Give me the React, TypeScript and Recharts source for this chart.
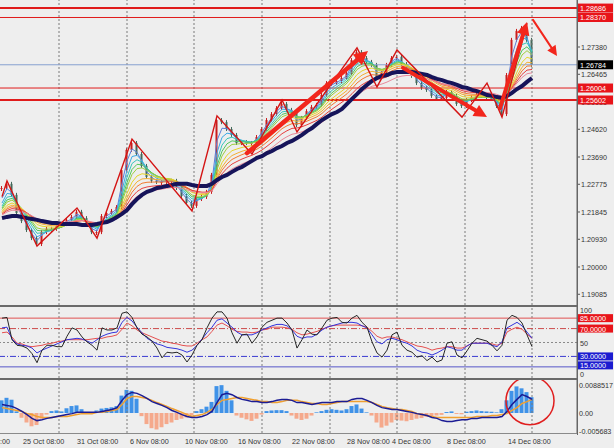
import React from 'react';
import { ComposedChart, Line, Bar, XAxis, YAxis, ReferenceLine, ReferenceDot } from 'recharts';

const FONT = '"Liberation Sans", Arial, sans-serif';
const W = 614;
const AXIS_W = 37;
const X_DOMAIN: [number, number] = [-0.4, 115];

// ---- price pane data (one sample per bar slot) ----
const closes = [
  1.2265, 1.2279, 1.2242, 1.2181, 1.2154, 1.2124, 1.2097, 1.2077, 1.2117, 1.2128,
  1.2128, 1.2138, 1.2144, 1.2158, 1.2168, 1.2185, 1.2164, 1.2141, 1.2117, 1.2117,
  1.2171, 1.2181, 1.2188, 1.2201, 1.2325, 1.2393, 1.2416, 1.2379, 1.2339, 1.2302,
  1.2289, 1.2285, 1.2285, 1.2289, 1.2289, 1.2265, 1.2238, 1.2215, 1.2205, 1.2228,
  1.2235, 1.2252, 1.2309, 1.2493, 1.2486, 1.2463, 1.2443, 1.2416, 1.2419, 1.2416,
  1.2416, 1.2436, 1.2463, 1.2493, 1.2513, 1.2533, 1.2547, 1.2527, 1.2520, 1.2476,
  1.2500, 1.2523, 1.2537, 1.2544, 1.2577, 1.2617, 1.2617, 1.2624, 1.2634, 1.2651,
  1.2694, 1.2721, 1.2701, 1.2688, 1.2678, 1.2637, 1.2654, 1.2678, 1.2701, 1.2705,
  1.2681, 1.2661, 1.2641, 1.2617, 1.2601, 1.2594, 1.2574, 1.2564, 1.2567, 1.2587,
  1.2574, 1.2547, 1.2540, 1.2560, 1.2570, 1.2577, 1.2574, 1.2570, 1.2564, 1.2540,
  1.2513, 1.2644, 1.2762, 1.2792, 1.2802, 1.2762, 1.2678,
];

const navyMA = [
  1.2164, 1.2168, 1.2171, 1.2171, 1.2168, 1.2164, 1.2161, 1.2158, 1.2154, 1.2151,
  1.2148, 1.2148, 1.2144, 1.2144, 1.2144, 1.2144, 1.2141, 1.2141, 1.2141, 1.2144,
  1.2148, 1.2151, 1.2158, 1.2168, 1.2178, 1.2191, 1.2211, 1.2228, 1.2242, 1.2252,
  1.2258, 1.2265, 1.2268, 1.2272, 1.2275, 1.2279, 1.2279, 1.2279, 1.2275, 1.2272,
  1.2272, 1.2272, 1.2279, 1.2292, 1.2302, 1.2309, 1.2319, 1.2329, 1.2336, 1.2346,
  1.2356, 1.2366, 1.2372, 1.2382, 1.2389, 1.2399, 1.2406, 1.2416, 1.2423, 1.2433,
  1.2443, 1.2456, 1.2466, 1.2480, 1.2493, 1.2503, 1.2513, 1.2520, 1.2530, 1.2547,
  1.2564, 1.2580, 1.2597, 1.2611, 1.2624, 1.2634, 1.2641, 1.2644, 1.2651, 1.2654,
  1.2654, 1.2654, 1.2654, 1.2651, 1.2648, 1.2644, 1.2637, 1.2631, 1.2627, 1.2621,
  1.2617, 1.2611, 1.2604, 1.2601, 1.2594, 1.2590, 1.2584, 1.2577, 1.2574, 1.2570,
  1.2567, 1.2574, 1.2584, 1.2597, 1.2607, 1.2621, 1.2634,
];

const zigIdx = [0, 1, 7, 15, 19, 26, 38, 43, 50, 56, 59, 71, 75, 79, 92, 97, 100, 105];
const zigPrice = [1.2236, 1.2289, 1.2070, 1.2198, 1.2097, 1.2429, 1.2188, 1.2507, 1.2379, 1.2560,
  1.2453, 1.2735, 1.2604, 1.2728, 1.2503, 1.2617, 1.2503, 1.2818];

const arrowFromIdx = [49, 80.2, 99.6, 106.2];
const arrowFromPrice = [1.2382, 1.2668, 1.2533, 1.2829];
const arrowToIdx = [73.2, 97, 105, 111];
const arrowToPrice = [1.2725, 1.2503, 1.2822, 1.2708];

const ribbonPeriods = [2, 3, 4, 5, 6, 8, 10, 12, 15, 19];
const ribbonColors = ['#5b80d8', '#3aa9e6', '#38c6bc', '#50c85e', '#9ccf3e', '#e6d42a', '#f4b032', '#f27a30', '#e63f3f', '#e8889a'];

const priceTicks = [1.19085, 1.2, 1.2093, 1.21845, 1.22775, 1.2369, 1.2462, 1.25535, 1.26465, 1.2738];
const priceLevels = [1.28686, 1.2837, 1.26784, 1.26004, 1.25602];
const levelLineColors = ['#e01b1b', '#e01b1b', '#86a0cf', '#e01b1b', '#e01b1b'];
const levelLineWidths = [2, 1, 1, 1, 2];
const levelBoxColors = ['#e8141a', '#e8141a', '#000000', '#e8141a', '#e8141a'];

// ---- RSI pane ----
const rsiFast = [
  85, 86, 54, 46, 45, 42, 34, 21, 39, 46,
  46, 44, 44, 59, 71, 68, 58, 51, 46, 39,
  71, 68, 68, 71, 92, 94, 86, 71, 62, 58,
  52, 42, 28, 36, 35, 36, 32, 22, 32, 46,
  54, 71, 85, 94, 94, 85, 64, 49, 61, 62,
  49, 58, 72, 79, 82, 85, 85, 78, 68, 42,
  54, 68, 62, 61, 71, 82, 85, 86, 79, 78,
  85, 89, 79, 72, 51, 35, 29, 39, 61, 65,
  46, 39, 36, 29, 31, 24, 29, 22, 25, 49,
  51, 32, 28, 38, 49, 56, 54, 52, 46, 38,
  46, 82, 89, 86, 78, 61, 44,
];
const rsiMid = [
  71, 72, 55, 48, 46, 45, 42, 35, 39, 42,
  45, 48, 51, 54, 55, 56, 55, 52, 49, 54,
  59, 62, 64, 65, 79, 86, 81, 72, 64, 56,
  52, 48, 46, 43, 42, 41, 39, 36, 39, 46,
  55, 64, 72, 82, 84, 78, 72, 65, 61, 61,
  61, 64, 68, 71, 74, 76, 76, 74, 68, 59,
  56, 58, 58, 62, 68, 72, 74, 76, 78, 79,
  79, 78, 74, 71, 61, 51, 48, 54, 56, 54,
  51, 49, 45, 39, 36, 35, 32, 35, 39, 44,
  42, 39, 39, 45, 49, 49, 49, 49, 46, 44,
  51, 71, 75, 79, 74, 65, 56,
];
const rsiSlow = [
  64, 65, 58, 49, 48, 45, 44, 45, 46, 48,
  49, 51, 52, 54, 54, 54, 54, 54, 55, 56,
  56, 58, 59, 61, 69, 78, 74, 68, 64, 61,
  58, 55, 52, 51, 49, 48, 46, 45, 45, 49,
  54, 58, 66, 75, 78, 74, 69, 66, 65, 65,
  64, 65, 68, 69, 72, 72, 72, 71, 69, 64,
  61, 62, 64, 66, 69, 72, 74, 75, 75, 75,
  75, 75, 74, 72, 66, 59, 56, 58, 58, 56,
  54, 51, 48, 45, 44, 42, 39, 41, 42, 44,
  44, 42, 42, 45, 49, 49, 49, 49, 48, 46,
  49, 65, 69, 72, 69, 62, 56,
];
const rsiTicks = [100, 85, 70, 50, 30, 15, 0];
const rsiTickLabels = ['100', '85.0000', '70.0000', '50', '30.0000', '15.0000', '0'];
const rsiTickBox = ['', '#e8141a', '#e8141a', '', '#1c1cd0', '#1c1cd0', ''];
const rsiTickNudge = [2.5, 0, 0, 0, 0, -1.5, -3];

// ---- MACD pane ----
const macdHist = [
  0.0040, 0.0048, 0.0042, 0.0005, -0.0015, -0.0030, -0.0042, -0.0038, -0.0018, -0.0005,
  0.0006, 0.0008, 0.0005, 0.0015, 0.0022, 0.0024, 0.0012, 0.0002, -0.0003, 0.0008,
  0.0014, 0.0016, 0.0018, 0.0022, 0.0055, 0.0073, 0.0070, 0.0045, -0.0010, -0.0035,
  -0.0048, -0.0052, -0.0045, -0.0035, -0.0030, -0.0022, -0.0018, -0.0014, -0.0008, 0.0006,
  0.0012, 0.0020, 0.0035, 0.0085, 0.0088, 0.0070, 0.0040, -0.0008, -0.0015, -0.0020,
  -0.0025, -0.0018, -0.0005, 0.0006, 0.0008, 0.0009, 0.0009, 0.0006, -0.0008, -0.0018,
  -0.0022, -0.0018, -0.0008, 0.0002, 0.0006, 0.0010, 0.0012, 0.0010, 0.0008, 0.0012,
  0.0022, 0.0027, 0.0014, 0.0002, -0.0008, -0.0030, -0.0046, -0.0040, -0.0030, -0.0022,
  -0.0024, -0.0026, -0.0022, -0.0018, -0.0016, -0.0012, -0.0010, -0.0008, -0.0006, 0.0003,
  0.0005, -0.0003, -0.0004, 0.0004, 0.0006, 0.0008, 0.0006, 0.0005, 0.0004, 0.0002,
  0.0012, 0.0040, 0.0070, 0.0084, 0.0078, 0.0066, 0.0050,
];
const macdMain = [
  0.0027, 0.0024, 0.0021, 0.0014, 0.0005, -0.0005, -0.0017, -0.0024, -0.0021, -0.0017,
  -0.0014, -0.0011, -0.0008, -0.0005, -0.0002, 0.0002, 0.0002, 0.0002, 0.0002, 0.0002,
  0.0005, 0.0008, 0.0011, 0.0017, 0.0040, 0.0058, 0.0065, 0.0062, 0.0055, 0.0046,
  0.0036, 0.0030, 0.0024, 0.0017, 0.0008, 0.0002, -0.0005, -0.0011, -0.0014, -0.0014,
  -0.0011, -0.0005, 0.0005, 0.0033, 0.0058, 0.0062, 0.0058, 0.0049, 0.0043, 0.0040,
  0.0036, 0.0036, 0.0033, 0.0033, 0.0036, 0.0040, 0.0043, 0.0043, 0.0040, 0.0033,
  0.0033, 0.0030, 0.0027, 0.0030, 0.0033, 0.0033, 0.0033, 0.0036, 0.0036, 0.0036,
  0.0043, 0.0046, 0.0046, 0.0040, 0.0033, 0.0024, 0.0017, 0.0014, 0.0011, 0.0011,
  0.0008, 0.0005, 0.0002, -0.0002, -0.0005, -0.0008, -0.0014, -0.0017, -0.0024, -0.0027,
  -0.0027, -0.0024, -0.0021, -0.0021, -0.0017, -0.0017, -0.0014, -0.0014, -0.0014, -0.0014,
  -0.0011, 0.0005, 0.0027, 0.0043, 0.0058, 0.0052, 0.0043,
];
const macdSignal = [
  0.0017, 0.0014, 0.0011, 0.0008, 0.0005, -0.0002, -0.0005, -0.0011, -0.0014, -0.0014,
  -0.0014, -0.0011, -0.0011, -0.0011, -0.0008, -0.0005, -0.0002, -0.0002, -0.0002, 0.0002,
  0.0002, 0.0005, 0.0008, 0.0011, 0.0027, 0.0046, 0.0052, 0.0052, 0.0049, 0.0046,
  0.0040, 0.0033, 0.0027, 0.0021, 0.0014, 0.0008, 0.0002, -0.0005, -0.0011, -0.0008,
  -0.0005, 0.0002, 0.0011, 0.0027, 0.0040, 0.0043, 0.0046, 0.0049, 0.0049, 0.0046,
  0.0043, 0.0040, 0.0036, 0.0036, 0.0033, 0.0033, 0.0036, 0.0040, 0.0040, 0.0040,
  0.0036, 0.0033, 0.0030, 0.0030, 0.0027, 0.0027, 0.0030, 0.0033, 0.0036, 0.0036,
  0.0036, 0.0036, 0.0036, 0.0036, 0.0033, 0.0027, 0.0021, 0.0017, 0.0014, 0.0011,
  0.0011, 0.0008, 0.0005, -0.0002, -0.0005, -0.0008, -0.0011, -0.0014, -0.0014, -0.0014,
  -0.0014, -0.0014, -0.0014, -0.0014, -0.0014, -0.0011, -0.0011, -0.0011, -0.0008, -0.0008,
  -0.0005, -0.0002, 0.0008, 0.0017, 0.0030, 0.0036, 0.0043,
];
const macdTicks = [0.0088517, 0, -0.005683];
const macdTickLabels = ['0.0088517', '0.00', '-0.005683'];
const circleIdx = 105.6;
const circleValue = 0.0039;

// ---- time axis ----
const gridIdx = [11.4, 25, 38.4, 52, 65.6, 79, 92.6, 106];
const dateTickIdx = [-0.4, 4.2, 15, 25.6, 36.6, 47.2, 58, 69, 78, 89, 101.2];
const dateLabels = ['19 Oct 08:00', '25 Oct 08:00', '31 Oct 08:00', '6 Nov 08:00', '10 Nov 08:00', '16 Nov 08:00',
  '22 Nov 08:00', '28 Nov 08:00', '4 Dec 08:00', '8 Dec 08:00', '14 Dec 08:00'];

// ---- build table ----
const ribbon = ribbonPeriods.map((n) => {
  const a = 2 / (n + 1);
  let e = navyMA[0];
  return closes.map((c) => (e = e + a * (c - e)));
});

const rows: any[] = closes.map((c, i) => {
  const o = i > 0 ? closes[i - 1] : c;
  const row: any = {
    i,
    body: [Math.min(o, c), Math.max(o, c)],
    up: c >= o,
    navy: navyMA[i],
    zz: null,
    rsiF: rsiFast[i],
    rsiM: rsiMid[i],
    rsiS: rsiSlow[i],
    hist: macdHist[i],
    macd: macdMain[i],
    sig: macdSignal[i],
  };
  ribbon.forEach((arr, k) => { row['r' + k] = arr[i]; });
  return row;
});
zigIdx.forEach((idx, k) => { rows[idx].zz = zigPrice[k]; });

const arrowWidths = [4.5, 4, 4, 2];
const arrowHeads = [14, 13, 13, 10];

const makeArrow = (w: number, head: number) => (p: any) => {
  const { x1, y1, x2, y2 } = p;
  const dx = x2 - x1, dy = y2 - y1;
  const L = Math.hypot(dx, dy) || 1;
  const ux = dx / L, uy = dy / L;
  const bx = x2 - ux * head, by = y2 - uy * head;
  const nx = -uy, ny = ux, hw = head * 0.5;
  return (
    <g>
      <line x1={x1} y1={y1} x2={bx} y2={by} stroke="#f2261c" strokeWidth={w} strokeLinecap="round" />
      <polygon points={`${x2},${y2} ${bx + nx * hw},${by + ny * hw} ${bx - nx * hw},${by - ny * hw}`} fill="#f2261c" />
    </g>
  );
};

const Candle = (p: any) => {
  const { x, y, width, height, payload } = p;
  const cx = x + width / 2;
  const top = Math.min(y, y + height);
  const h = Math.max(1, Math.abs(height));
  const col = payload.up ? '#c91d1d' : '#44695a';
  return (
    <g>
      <line x1={cx} x2={cx} y1={top - 2} y2={top + h + 2} stroke={col} strokeWidth={1} />
      <rect x={cx - 1} y={top} width={2} height={h} fill={col} />
    </g>
  );
};

const HistBar = (p: any) => {
  const { x, y, width, height, payload } = p;
  const top = Math.min(y, y + height);
  const h = Math.abs(height);
  return <rect x={x} y={top} width={width} height={h} fill={payload.hist >= 0 ? '#3f92e8' : '#f5a98c'} />;
};

const txt = { fontSize: 7.2, fontFamily: FONT } as const;

const priceAllTicks = [...priceTicks, ...priceLevels];
const PriceTick = (p: any) => {
  const { x, y, index } = p;
  const v = priceAllTicks[index];
  if (index >= priceTicks.length) {
    const li = index - priceTicks.length;
    return (
      <g>
        <rect x={x + 1} y={y - 4.5} width={35} height={9} fill={levelBoxColors[li]} />
        <text x={x + 3} y={y + 0.5} dominantBaseline="central" fill="#ffffff" {...txt}>{v.toFixed(5)}</text>
      </g>
    );
  }
  return (
    <g>
      <line x1={x} x2={x + 3} y1={y} y2={y} stroke="#555" />
      <text x={x + 4} y={y + 0.5} dominantBaseline="central" fill="#333" {...txt}>{v.toFixed(5)}</text>
    </g>
  );
};

const RsiTick = (p: any) => {
  const { x, y, index } = p;
  const yy = y + rsiTickNudge[index];
  const box = rsiTickBox[index];
  return (
    <g>
      {box ? <rect x={x + 1} y={yy - 4} width={35} height={8} fill={box} /> : null}
      <text x={x + 3} y={yy + 0.5} dominantBaseline="central" fill={box ? '#ffffff' : '#333'} {...txt}>{rsiTickLabels[index]}</text>
    </g>
  );
};

const MacdTick = (p: any) => {
  const { x, y, index } = p;
  return <text x={x + 2} y={y + 0.5} dominantBaseline="central" fill="#333" {...txt}>{macdTickLabels[index]}</text>;
};

const DateTick = (p: any) => {
  const { x, y, index } = p;
  const first = index === 0;
  return (
    <text x={first ? x + 10 : x} y={y + 8.5} textAnchor={first ? 'end' : 'start'} dominantBaseline="central" fill="#333" {...txt}>
      {dateLabels[index]}
    </text>
  );
};

const margin = { top: 0, right: 0, bottom: 0, left: 0 };
const gridLines = (prefix: string) =>
  gridIdx.map((g) => <ReferenceLine key={prefix + g} x={g} stroke="#7a7a7a" strokeDasharray="2 2" strokeWidth={1} />);

export default function App() {
  return (
    <div style={{ position: 'absolute', left: 0, top: 0, width: W, height: 448, background: '#eeeeee', overflow: 'hidden' }}>
      {/* main price pane */}
      <div style={{ position: 'absolute', left: 0, top: 0 }}>
        <ComposedChart width={W} height={305} data={rows} margin={margin}>
          <XAxis dataKey="i" type="number" domain={X_DOMAIN} hide allowDataOverflow />
          <YAxis orientation="right" width={AXIS_W} type="number" domain={[1.18725, 1.28957]} allowDataOverflow
            ticks={priceAllTicks} interval={0} tick={PriceTick} tickLine={false} tickSize={0} tickMargin={0}
            axisLine={{ stroke: '#666' }} />
          {gridLines('m')}
          {priceLevels.map((lv, k) => (
            <ReferenceLine key={'lv' + k} y={lv} stroke={levelLineColors[k]} strokeWidth={levelLineWidths[k]} />
          ))}
          <Bar dataKey="body" barSize={2} shape={Candle} isAnimationActive={false} />
          {ribbonColors.map((c, k) => (
            <Line key={'rb' + k} dataKey={'r' + k} stroke={c} strokeWidth={1} dot={false} activeDot={false} isAnimationActive={false} />
          ))}
          <Line dataKey="navy" stroke="#16145a" strokeWidth={4} dot={false} activeDot={false} isAnimationActive={false} />
          <Line dataKey="zz" stroke="#d41414" strokeWidth={1.4} dot={false} activeDot={false} connectNulls isAnimationActive={false} />
          {arrowFromIdx.map((a, k) => (
            <ReferenceLine key={'ar' + k}
              segment={[{ x: a, y: arrowFromPrice[k] }, { x: arrowToIdx[k], y: arrowToPrice[k] }]}
              ifOverflow="visible" shape={makeArrow(arrowWidths[k], arrowHeads[k])} />
          ))}
        </ComposedChart>
      </div>

      {/* RSI pane */}
      <div style={{ position: 'absolute', left: 0, top: 307 }}>
        <ComposedChart width={W} height={73} data={rows} margin={{ top: 0, right: 0, bottom: 2, left: 0 }}>
          <XAxis dataKey="i" type="number" domain={X_DOMAIN} hide allowDataOverflow />
          <YAxis orientation="right" width={AXIS_W} type="number" domain={[-1, 101]} allowDataOverflow
            ticks={rsiTicks} interval={0} tick={RsiTick} tickLine={false} tickSize={0} tickMargin={0}
            axisLine={{ stroke: '#666' }} />
          {gridLines('r')}
          <ReferenceLine y={85} stroke="#e05050" strokeWidth={1} />
          <ReferenceLine y={70} stroke="#cc4a4a" strokeWidth={1} strokeDasharray="6 2 1 2" />
          <ReferenceLine y={50} stroke="#8a8a8a" strokeWidth={1} strokeDasharray="2 2" />
          <ReferenceLine y={30} stroke="#3a3ad0" strokeWidth={1} strokeDasharray="6 2 1 2" />
          <ReferenceLine y={15} stroke="#5656c8" strokeWidth={1} />
          <Line dataKey="rsiS" stroke="#e65050" strokeWidth={1} dot={false} activeDot={false} isAnimationActive={false} />
          <Line dataKey="rsiM" stroke="#3434dc" strokeWidth={1} dot={false} activeDot={false} isAnimationActive={false} />
          <Line dataKey="rsiF" stroke="#262626" strokeWidth={1} dot={false} activeDot={false} isAnimationActive={false} />
        </ComposedChart>
      </div>

      {/* MACD pane */}
      <div style={{ position: 'absolute', left: 0, top: 380 }}>
        <ComposedChart width={W} height={68} data={rows} margin={margin}>
          <XAxis dataKey="i" type="number" domain={X_DOMAIN} allowDataOverflow ticks={dateTickIdx} interval={0}
            tick={DateTick} height={15} axisLine={false} tickLine={false} tickSize={0} tickMargin={0} />
          <YAxis orientation="right" width={AXIS_W} type="number" domain={[-0.00632, 0.01043]} allowDataOverflow
            ticks={macdTicks} interval={0} tick={MacdTick} tickLine={false} tickSize={0} tickMargin={0}
            axisLine={{ stroke: '#666' }} />
          {gridLines('d')}
          <Bar dataKey="hist" barSize={4} shape={HistBar} isAnimationActive={false} />
          <Line dataKey="sig" stroke="#f0a030" strokeWidth={1.5} dot={false} activeDot={false} isAnimationActive={false} />
          <Line dataKey="macd" stroke="#1c1c94" strokeWidth={1.5} dot={false} activeDot={false} isAnimationActive={false} />
          <ReferenceDot x={circleIdx} y={circleValue} r={24} fill="none" stroke="#e01e1e" strokeWidth={1.5} ifOverflow="visible" />
        </ComposedChart>
      </div>

      {/* pane frames */}
      <div style={{ position: 'absolute', left: 0, top: 305, width: 578, height: 2, background: '#6a6a6a' }} />
      <div style={{ position: 'absolute', left: 0, top: 378, width: 578, height: 2, background: '#6a6a6a' }} />
      <div style={{ position: 'absolute', left: 0, top: 433, width: 578, height: 1, background: '#8a8a8a' }} />
      <div style={{ position: 'absolute', left: 577, top: 0, width: 1, height: 435, background: '#666' }} />
    </div>
  );
}
